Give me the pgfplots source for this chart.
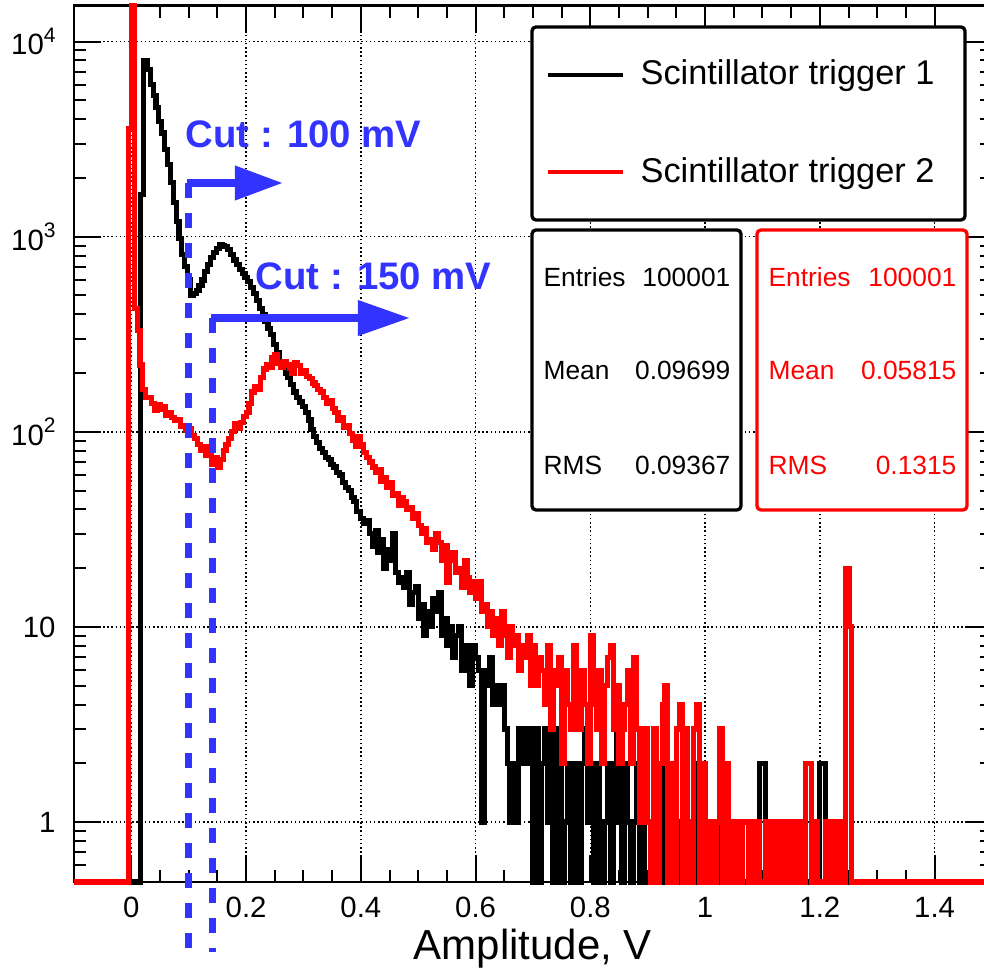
\documentclass[border=0pt]{standalone}
\usepackage{fontspec}
\setmainfont{Liberation Sans}
\usepackage{pgfplots}
\pgfplotsset{compat=1.18}
\usepackage{pgfplotstable}
\usetikzlibrary{arrows.meta}
\definecolor{cutblue}{RGB}{51,51,255}
\definecolor{rootred}{RGB}{255,0,0}

\pgfplotstableread{
x y
-0.1 0.4928
0.0166 1650
0.0212 8000
0.0275 7200
0.033 6000
0.038 5300
0.043 4600
0.048 3900
0.053 3400
0.058 2800
0.063 2350
0.068 1900
0.073 1500
0.078 1200
0.083 980
0.088 810
0.093 700
0.098 600
0.103 500
0.108 510
0.113 530
0.118 560
0.123 600
0.128 660
0.133 720
0.138 780
0.143 830
0.148 870
0.153 910
0.158 900
0.163 890
0.168 860
0.173 810
0.178 760
0.183 720
0.188 680
0.193 650
0.198 620
0.203 590
0.208 550
0.213 510
0.218 470
0.223 430
0.228 400
0.233 370
0.238 340
0.243 315
0.248 280
0.253 255
0.258 230
0.263 215
0.268 200
0.273 190
0.278 175
0.283 160
0.288 150
0.293 142
0.298 135
0.303 125
0.308 115
0.313 103
0.318 95
0.323 88
0.328 82
0.333 78
0.338 74
0.343 72
0.348 68
0.353 66
0.358 62
0.363 60
0.368 55
0.373 52
0.378 50
0.383 46
0.388 44
0.393 39
0.400 36
0.405 34
0.410 35
0.415 30
0.420 26
0.425 31
0.430 24
0.435 28
0.440 20
0.445 25
0.450 22
0.455 30
0.460 19
0.465 17
0.470 18
0.475 16
0.480 19
0.485 13
0.490 15
0.495 16
0.500 11
0.505 13
0.510 9
0.515 12
0.520 10
0.525 14
0.530 12
0.535 15
0.540 9
0.545 11
0.550 8
0.555 10
0.560 7
0.565 9
0.570 10
0.575 6
0.580 8
0.585 7
0.590 5
0.595 8
0.600 7
0.605 6
0.610 1
0.615 6
0.620 5
0.625 7
0.630 4
0.635 5
0.640 4
0.645 5
0.650 3
0.655 2
0.660 1
0.665 2
0.670 1
0.675 3
0.680 2
0.685 3
0.690 2
0.695 3
0.700 0.4928
0.705 3
0.710 0.4928
0.715 2
0.720 3
0.725 1
0.730 3
0.735 0.4928
0.740 2
0.745 3
0.750 0.4928
0.755 1
0.760 2
0.765 0.4928
0.770 2
0.775 1
0.780 0.4928
0.785 2
0.790 3
0.795 1
0.800 2
0.805 0.4928
0.810 2
0.815 1
0.820 0.4928
0.825 1
0.830 2
0.835 0.4928
0.840 2
0.845 3
0.850 1
0.855 0.4928
0.860 2
0.865 1
0.870 0.4928
0.875 1
0.880 2
0.885 0.4928
0.890 1
0.895 0.4928
0.900 0.4928
0.905 1
0.910 0.4928
0.915 1
0.920 2
0.925 0.4928
0.930 1
0.935 0.4928
0.940 1
0.945 0.4928
0.950 0.4928
0.955 1
0.960 0.4928
0.965 1
0.970 0.4928
0.975 0.4928
0.980 0.4928
0.985 2
0.990 0.4928
0.995 1
1.000 0.4928
1.005 0.4928
1.010 1
1.015 0.4928
1.020 0.4928
1.025 1
1.030 0.4928
1.035 0.4928
1.040 1
1.045 0.4928
1.050 0.4928
1.055 0.4928
1.060 1
1.065 0.4928
1.070 0.4928
1.075 0.4928
1.080 1
1.085 0.4928
1.090 0.4928
1.095 2
1.100 2
1.105 0.4928
1.110 0.4928
1.115 0.4928
1.120 0.4928
1.125 0.4928
1.130 0.4928
1.135 1
1.140 0.4928
1.145 0.4928
1.150 0.4928
1.155 0.4928
1.160 1
1.165 0.4928
1.170 0.4928
1.175 0.4928
1.180 0.4928
1.185 1
1.190 0.4928
1.195 0.4928
1.200 2
1.205 2
1.210 0.4928
1.215 0.4928
1.220 0.4928
1.225 1
1.230 1
1.235 1
1.240 0.4928
1.500 0.4928
}\blackdata

\pgfplotstableread{
x y
-0.1 0.4928
-0.0056 3600
-0.0005 15280
0.005 430
0.010 330
0.015 220
0.020 165
0.025 150
0.030 150
0.035 140
0.040 128
0.045 138
0.050 130
0.055 135
0.060 122
0.065 126
0.070 118
0.075 114
0.080 116
0.085 106
0.090 108
0.095 102
0.100 104
0.105 96
0.110 92
0.115 86
0.120 80
0.125 84
0.130 76
0.135 80
0.140 68
0.145 74
0.150 66
0.155 72
0.160 80
0.165 86
0.170 92
0.175 100
0.180 110
0.185 104
0.190 112
0.195 120
0.200 126
0.205 140
0.210 160
0.215 170
0.220 165
0.225 190
0.230 210
0.235 220
0.240 215
0.245 240
0.250 250
0.255 225
0.260 215
0.265 230
0.270 220
0.275 212
0.280 200
0.285 225
0.290 218
0.295 200
0.300 205
0.305 192
0.310 188
0.315 178
0.320 172
0.325 165
0.330 160
0.335 150
0.340 140
0.345 145
0.350 132
0.355 125
0.360 115
0.365 118
0.370 105
0.375 108
0.380 98
0.385 90
0.390 84
0.395 95
0.400 86
0.405 78
0.410 74
0.415 70
0.420 66
0.425 62
0.430 64
0.435 56
0.440 58
0.445 52
0.450 55
0.455 47
0.460 48
0.465 42
0.470 46
0.475 44
0.480 40
0.485 41
0.490 36
0.495 38
0.500 33
0.505 30
0.510 32
0.515 27
0.520 28
0.525 25
0.530 30
0.535 27
0.540 22
0.545 26
0.550 17
0.555 22
0.560 24
0.565 19
0.570 20
0.575 16
0.580 22
0.585 18
0.590 15
0.595 17
0.600 14
0.605 17
0.610 12
0.615 13
0.620 10
0.625 12
0.630 9
0.635 11
0.640 8
0.645 12
0.650 9
0.655 7
0.660 10
0.665 8
0.670 9
0.675 6
0.680 8
0.685 7
0.690 9
0.695 5
0.700 8
0.705 5
0.710 7
0.715 6
0.720 4
0.725 8
0.730 3
0.735 6
0.740 5
0.745 7
0.750 2
0.755 6
0.760 4
0.765 3
0.770 8
0.775 5
0.780 3
0.785 6
0.790 4
0.795 2
0.800 9
0.805 4
0.810 3
0.815 6
0.820 2
0.825 5
0.830 7
0.835 8
0.840 3
0.845 5
0.850 2
0.855 3
0.860 4
0.865 6
0.870 2
0.875 7
0.880 3
0.885 1
0.890 2
0.895 3
0.900 1
0.905 0.4928
0.910 3
0.915 0.4928
0.920 2
0.925 4
0.930 5
0.935 0.4928
0.940 2
0.945 0.4928
0.950 3
0.955 4
0.960 0.4928
0.965 3
0.970 1
0.975 0.4928
0.980 3
0.985 4
0.990 0.4928
0.995 2
1.000 1
1.005 0.4928
1.010 1
1.015 0.4928
1.020 1
1.025 3
1.030 0.4928
1.035 2
1.040 0.4928
1.045 1
1.050 0.4928
1.055 1
1.060 0.4928
1.065 1
1.070 1
1.075 0.4928
1.080 1
1.085 0.4928
1.090 1
1.095 0.4928
1.100 0.4928
1.105 1
1.110 0.4928
1.115 1
1.120 1
1.125 0.4928
1.130 1
1.135 0.4928
1.140 1
1.145 0.4928
1.150 1
1.155 0.4928
1.160 1
1.165 1
1.170 0.4928
1.175 2
1.180 2
1.185 0.4928
1.190 1
1.195 0.4928
1.200 0.4928
1.205 0.4928
1.210 1
1.215 0.4928
1.220 1
1.225 0.4928
1.230 1
1.235 0.4928
1.245 20
1.251 10
1.255 0.4928
1.500 0.4928
}\reddata

\begin{document}
\begin{tikzpicture}
\begin{axis}[
  at={(0,0)}, anchor=south west,
  scale only axis, width=275.4pt, height=262.9pt,
  xmin=-0.1, xmax=1.5,
  ymode=log, ymin=0.4928, ymax=15280,
  clip=false,
  xtick={0,0.2,0.4,0.6,0.8,1,1.2,1.4},
  xticklabels={0,0.2,0.4,0.6,0.8,1,1.2,1.4},
  minor x tick num=3,
  ytick={1,10,100,1000,10000},
  yticklabels={1,10,10\raisebox{0.42em}{\fontsize{6.3}{7}\selectfont 2},10\raisebox{0.42em}{\fontsize{6.3}{7}\selectfont 3},10\raisebox{0.42em}{\fontsize{6.3}{7}\selectfont 4}},
  minor ytick={0.6,0.7,0.8,0.9,2,3,4,5,6,7,8,9,20,30,40,50,60,70,80,90,200,300,400,500,600,700,800,900,2000,3000,4000,5000,6000,7000,8000,9000},
  major tick length=8.1pt, minor tick length=3.6pt,
  every tick/.style={black, line width=0.6pt},
  grid=major,
  major grid style={black, line width=0.45pt, dash pattern=on 0.45pt off 0.8pt},
  axis line style={black, line width=0.8pt},
  tick label style={font=\fontsize{8.8}{10}\selectfont},
  xticklabel style={yshift=-1pt},
  yticklabel style={xshift=-2pt},
  xlabel={Amplitude, V},
  xlabel style={font=\fontsize{12.6}{14}\selectfont, at={(axis description cs:0.5,0)}, anchor=base, yshift=-23.4pt},
]
\addplot[const plot mark left, black, line width=1.55pt] table[x=x,y=y] {\blackdata};
\addplot[const plot mark left, rootred, line width=1.55pt] table[x=x,y=y] {\reddata};

% cut markers
\draw[cutblue, line width=2.25pt, dash pattern=on 4.5pt off 4.5pt] (axis cs:0.1,1884) -- (axis cs:0.1,0.216);
\draw[cutblue, line width=2.25pt, dash pattern=on 4.5pt off 4.5pt] (axis cs:0.1415,383) -- (axis cs:0.1415,0.216);
\draw[cutblue, line width=2.2pt, -{Triangle[length=14.4pt,width=9.9pt]}] (axis cs:0.097,1884) -- (axis cs:0.264,1884);
\draw[cutblue, line width=2.2pt, -{Triangle[length=15.6pt,width=10.2pt]}] (axis cs:0.1385,383) -- (axis cs:0.4854,383);
\end{axis}

\node[anchor=base west, inner sep=0, text=cutblue, font=\fontsize{11.5}{13}\selectfont\bfseries] at (33.3pt,220.2pt) {Cut : 100 mV};
\node[anchor=base west, inner sep=0, text=cutblue, font=\fontsize{11.5}{13}\selectfont\bfseries] at (54.3pt,177.6pt) {Cut : 150 mV};

% legend
\draw[black, line width=1pt, fill=white, rounded corners=1.2pt] (137.4pt,198.6pt) rectangle (267.3pt,256.5pt);
\draw[black, line width=1pt] (142.2pt,242.1pt) -- (164.7pt,242.1pt);
\draw[rootred, line width=1pt] (142.2pt,213.0pt) -- (164.7pt,213.0pt);
\node[anchor=base west, inner sep=0, font=\fontsize{10.3}{12}\selectfont] at (169.8pt,239.1pt) {Scintillator trigger 1};
\node[anchor=base west, inner sep=0, font=\fontsize{10.3}{12}\selectfont] at (169.8pt,209.7pt) {Scintillator trigger 2};

% stats boxes
\draw[black, line width=1pt, fill=white, rounded corners=1.2pt] (137.4pt,111.6pt) rectangle (200.1pt,195.6pt);
\begin{scope}[every node/.style={inner sep=0, font=\fontsize{7.9}{9}\selectfont}]
\node[anchor=base west] at (140.7pt,178.6pt) {Entries};
\node[anchor=base east] at (197.1pt,178.6pt) {100001};
\node[anchor=base west] at (140.7pt,150.6pt) {Mean};
\node[anchor=base east] at (197.1pt,150.6pt) {0.09699};
\node[anchor=base west] at (140.7pt,122.1pt) {RMS};
\node[anchor=base east] at (197.1pt,122.1pt) {0.09367};
\end{scope}
\draw[rootred, line width=1pt, fill=white, rounded corners=1.2pt] (204.9pt,111.6pt) rectangle (267.9pt,195.6pt);
\begin{scope}[every node/.style={inner sep=0, text=rootred, font=\fontsize{7.9}{9}\selectfont}]
\node[anchor=base west] at (208.2pt,178.6pt) {Entries};
\node[anchor=base east] at (264.9pt,178.6pt) {100001};
\node[anchor=base west] at (208.2pt,150.6pt) {Mean};
\node[anchor=base east] at (264.9pt,150.6pt) {0.05815};
\node[anchor=base west] at (208.2pt,122.1pt) {RMS};
\node[anchor=base east] at (264.9pt,122.1pt) {0.1315};
\end{scope}

\pgfresetboundingbox
\useasboundingbox (-22.2pt,-26.4pt) rectangle (273pt,264.6pt);
\end{tikzpicture}
\end{document}
